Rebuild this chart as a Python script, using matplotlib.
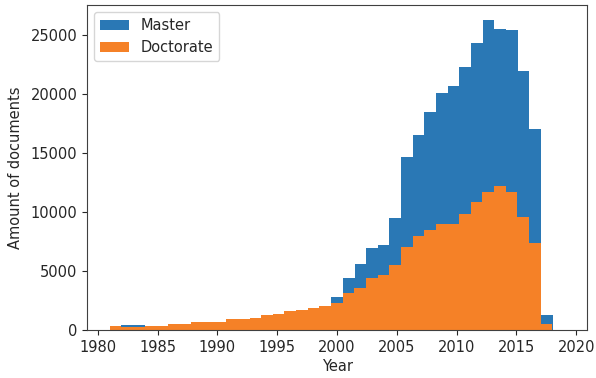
import numpy as np
import matplotlib
matplotlib.use('Agg')
import matplotlib.pyplot as plt

# documents per year
master_years = np.arange(1981, 2020)
master_counts = [200, 424, 424, 340, 350, 395, 440, 600, 630, 650, 880, 900,
                 980, 1250, 1330, 1560, 1650, 1800, 1950, 2810, 4435, 5590,
                 6950, 7200, 9490, 14660, 16530, 18480, 20090, 20680, 22290,
                 24320, 26270, 25510, 25430, 21950, 17030, 1270, 30]

doctorate_years = np.arange(1981, 2019)
doctorate_counts = [320, 290, 290, 367, 367, 480, 480, 650, 650, 680, 930, 930,
                    1020, 1300, 1385, 1610, 1695, 1865, 2035, 2290, 3165, 3590,
                    4435, 4660, 5510, 7035, 7965, 8475, 8985, 8985, 9830,
                    10850, 11695, 12205, 11695, 9575, 7375, 510]

plt.rcParams['font.family'] = 'DejaVu Sans'
plt.rcParams['text.color'] = '#262626'
plt.rcParams['axes.labelcolor'] = '#262626'
plt.rcParams['xtick.color'] = '#262626'
plt.rcParams['ytick.color'] = '#262626'
plt.rcParams['axes.edgecolor'] = '#404040'
plt.rcParams['font.size'] = 10.5

fig = plt.figure(figsize=(5.96, 3.78), dpi=100)
ax = fig.add_axes([0.146, 0.127, 0.839, 0.86])

# one bin per unique year, like a plain hist on the raw year column
ax.hist(master_years, bins=len(master_years), weights=master_counts,
        color='#2a78b5', label='Master')
ax.hist(doctorate_years, bins=len(doctorate_years), weights=doctorate_counts,
        color='#f58127', label='Doctorate')

ax.set_xlabel('Year', labelpad=3)
ax.set_ylabel('Amount of documents', labelpad=5)
ax.set_xticks(np.arange(1980, 2021, 5))
ax.legend(loc='upper left')

plt.savefig('out.png')
